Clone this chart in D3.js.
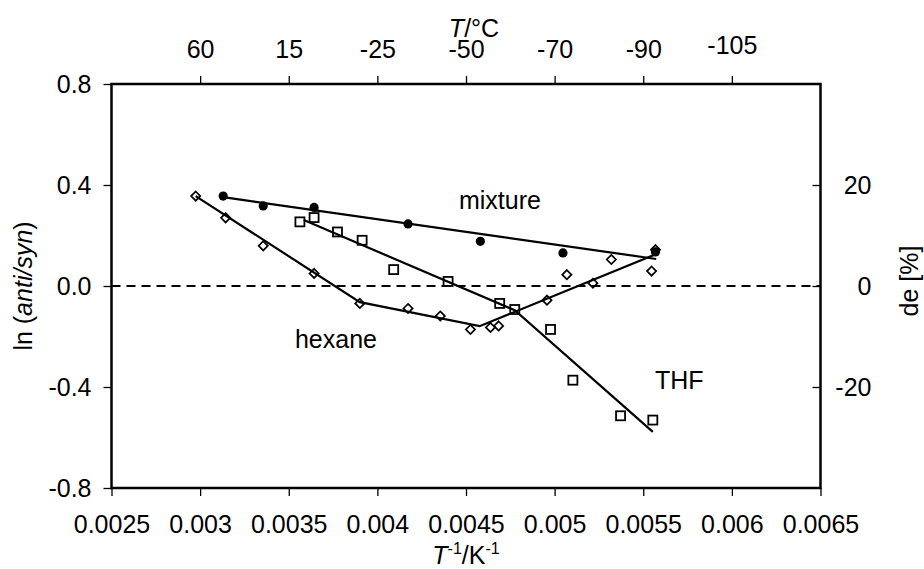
<!DOCTYPE html>
<html>
<head>
<meta charset="utf-8">
<script src="https://cdn.jsdelivr.net/npm/d3@7"></script>
<style>
  body { margin: 0; background: #fff; }
  text { font-family: "Liberation Sans", Arial, sans-serif; fill: #000; }
</style>
</head>
<body>
<svg id="chart" width="924" height="569"></svg>
<script>
// tick values / labels
var xTicks = [0.0025, 0.003, 0.0035, 0.004, 0.0045, 0.005, 0.0055, 0.006, 0.0065];
var xTickLabels = ["0.0025", "0.003", "0.0035", "0.004", "0.0045", "0.005", "0.0055", "0.006", "0.0065"];
var topTicks = [0.003, 0.0035, 0.004, 0.0045, 0.005, 0.0055, 0.006];
var topTickLabels = ["60", "15", "-25", "-50", "-70", "-90", "-105"];
var yTicks = [-0.8, -0.4, 0, 0.4, 0.8];
var yTickLabels = ["-0.8", "-0.4", "0.0", "0.4", "0.8"];
var deTicks = [-20, 0, 20];
var deTickLabels = ["-20", "0", "20"];

// measured points
var mixX = [0.00313, 0.003356, 0.003643, 0.004173, 0.004581, 0.005047, 0.005569];
var mixY = [0.356, 0.317, 0.311, 0.246, 0.177, 0.131, 0.135];

var hexX = [0.002975, 0.003144, 0.003356, 0.003643, 0.003901, 0.004173, 0.004355, 0.004525,
            0.004638, 0.004684, 0.004957, 0.005069, 0.005216, 0.00532, 0.005547, 0.005569];
var hexY = [0.356, 0.270, 0.159, 0.050, -0.069, -0.089, -0.119, -0.172,
            -0.164, -0.158, -0.056, 0.045, 0.011, 0.105, 0.059, 0.144];

var thfX = [0.003563, 0.003643, 0.003775, 0.003914, 0.004092, 0.004399, 0.00469, 0.004775,
            0.004977, 0.005103, 0.005372, 0.005554];
var thfY = [0.254, 0.271, 0.214, 0.181, 0.065, 0.018, -0.069, -0.093,
            -0.172, -0.373, -0.514, -0.531];

// fitted lines
var mixFitX = [0.00313, 0.005573];
var mixFitY = [0.352, 0.107];
var hexFitX = [0.002975, 0.003901, 0.004577, 0.005564];
var hexFitY = [0.356, -0.064, -0.159, 0.124];
var thfFitX = [0.003585, 0.004775, 0.005554];
var thfFitY = [0.261, -0.096, -0.578];

var svg = d3.select("#chart");
var plotL = 111.5, plotR = 820.5, plotT = 84, plotB = 488;

var x = d3.scaleLinear().domain([0.0025, 0.0065]).range([plotL, plotR]);
var y = d3.scaleLinear().domain([-0.8, 0.8]).range([plotB, plotT]);
var yDe = d3.scaleLinear().domain([-40, 40]).range([plotB, plotT]);

function styleAxis(g) {
  g.select(".domain").remove();
  g.selectAll(".tick line").attr("stroke", "#000").attr("stroke-width", 1.3);
  g.selectAll(".tick text").attr("font-size", 25).attr("fill", "#000")
    .attr("font-family", "'Liberation Sans', Arial, sans-serif");
}

// bottom axis
svg.append("g")
  .attr("transform", "translate(0," + plotB + ")")
  .call(d3.axisBottom(x).tickValues(xTicks).tickSize(8).tickPadding(19)
    .tickFormat(function (d, i) { return xTickLabels[i]; }))
  .call(styleAxis);

// top axis (T / °C)
var topAxis = svg.append("g")
  .attr("transform", "translate(0," + plotT + ")")
  .call(d3.axisTop(x).tickValues(topTicks).tickSize(8).tickPadding(18)
    .tickFormat(function (d, i) { return topTickLabels[i]; }))
  .call(styleAxis);
topAxis.selectAll(".tick text").filter(function (d, i) { return i == 6; }).attr("dy", "-0.15em");

// left axis
svg.append("g")
  .attr("transform", "translate(" + plotL + ",0)")
  .call(d3.axisLeft(y).tickValues(yTicks).tickSize(8).tickPadding(12)
    .tickFormat(function (d, i) { return yTickLabels[i]; }))
  .call(styleAxis);

// right axis (de %)
var rAxis = svg.append("g")
  .attr("transform", "translate(" + plotR + ",0)")
  .call(d3.axisRight(yDe).tickValues(deTicks).tickSize(-8).tickPadding(0)
    .tickFormat(function (d, i) { return deTickLabels[i]; }))
  .call(styleAxis);
rAxis.selectAll(".tick text").attr("text-anchor", "end").attr("x", 51);

// frame
svg.append("rect")
  .attr("x", plotL).attr("y", plotT)
  .attr("width", plotR - plotL).attr("height", plotB - plotT)
  .attr("fill", "none").attr("stroke", "#000").attr("stroke-width", 2.5);

// zero line
svg.append("line")
  .attr("x1", plotL).attr("x2", plotR)
  .attr("y1", y(0)).attr("y2", y(0))
  .attr("stroke", "#000").attr("stroke-width", 2.2)
  .attr("stroke-dasharray", "9,6");

// fitted lines
var line = d3.line().x(function (d) { return x(d[0]); }).y(function (d) { return y(d[1]); });
[[mixFitX, mixFitY], [hexFitX, hexFitY], [thfFitX, thfFitY]].forEach(function (s) {
  svg.append("path")
    .datum(d3.zip(s[0], s[1]))
    .attr("d", line)
    .attr("fill", "none").attr("stroke", "#000").attr("stroke-width", 2.2);
});

// markers
svg.append("g").selectAll("circle")
  .data(d3.zip(mixX, mixY)).enter().append("circle")
  .attr("cx", function (d) { return x(d[0]); })
  .attr("cy", function (d) { return y(d[1]); })
  .attr("r", 4.6).attr("fill", "#000");

svg.append("g").selectAll("rect")
  .data(d3.zip(thfX, thfY)).enter().append("rect")
  .attr("x", function (d) { return x(d[0]) - 4.5; })
  .attr("y", function (d) { return y(d[1]) - 4.5; })
  .attr("width", 9).attr("height", 9)
  .attr("fill", "none").attr("stroke", "#000").attr("stroke-width", 1.8);

svg.append("g").selectAll("path")
  .data(d3.zip(hexX, hexY)).enter().append("path")
  .attr("transform", function (d) { return "translate(" + x(d[0]) + "," + y(d[1]) + ")"; })
  .attr("d", "M0,-4.6L4.6,0L0,4.6L-4.6,0Z")
  .attr("fill", "none").attr("stroke", "#000").attr("stroke-width", 1.7);

// series labels
svg.append("text").attr("x", x(0.00446)).attr("y", y(0.303)).attr("font-size", 25).text("mixture");
svg.append("text").attr("x", x(0.003535)).attr("y", y(-0.244)).attr("font-size", 25).text("hexane");
svg.append("text").attr("x", x(0.005566)).attr("y", y(-0.406)).attr("font-size", 25).text("THF");

// axis titles
var tTop = svg.append("text").attr("x", 474).attr("y", 37).attr("text-anchor", "middle").attr("font-size", 25);
tTop.append("tspan").attr("font-style", "italic").text("T");
tTop.append("tspan").text("/°C");

var tBot = svg.append("text").attr("x", (plotL + plotR) / 2).attr("y", 564).attr("text-anchor", "middle").attr("font-size", 25);
tBot.append("tspan").attr("font-style", "italic").text("T");
tBot.append("tspan").attr("font-size", 16).attr("dy", -10).text("-1");
tBot.append("tspan").attr("dy", 10).text("/K");
tBot.append("tspan").attr("font-size", 16).attr("dy", -10).text("-1");

var tLeft = svg.append("text")
  .attr("transform", "translate(32," + 286 + ") rotate(-90)")
  .attr("text-anchor", "middle").attr("font-size", 25);
tLeft.append("tspan").text("ln (");
tLeft.append("tspan").attr("font-style", "italic").text("anti/syn");
tLeft.append("tspan").text(")");

svg.append("text")
  .attr("transform", "translate(918," + 281 + ") rotate(-90)")
  .attr("text-anchor", "middle").attr("font-size", 25)
  .text("de [%]");
</script>
</body>
</html>
